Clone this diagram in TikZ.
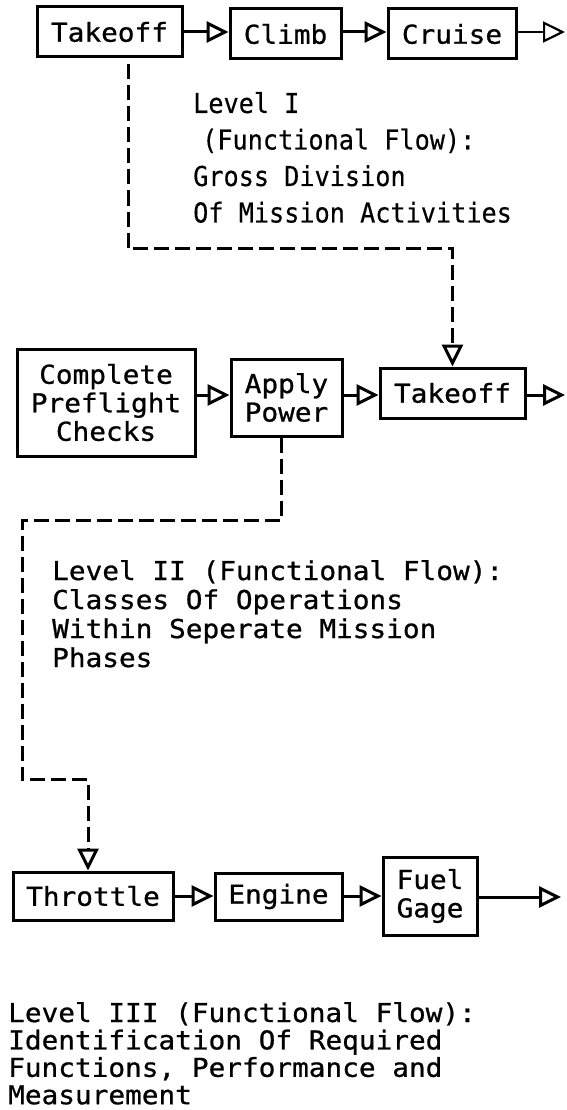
\documentclass[tikz,border=0pt]{standalone}
\usepackage{fontspec}
\usetikzlibrary{arrows.meta}
% plotter-style lettering: a monospaced sans, widened for boxes and notes,
% narrowed for the first-level note
\newfontfamily\plotfont[FakeStretch=1.067, FakeBold=0.8]{DejaVu Sans Mono}
\newfontfamily\plotcond[FakeStretch=0.92, FakeBold=0.3]{DejaVu Sans Mono}

\tikzset{
  stage/.style={draw, line width=3pt, inner sep=0pt, align=center,
    font=\plotfont\fontsize{26}{28.5}\selectfont},
  flow/.style={line width=3pt,
    -{Triangle[open, length=22pt, width=21pt]}},
  linkdash/.style={flow, dash pattern=on 15pt off 6pt},
  caption/.style={anchor=base west, inner sep=0pt}
}

\begin{document}
\begin{tikzpicture}[x=1pt, y=-1pt]
\useasboundingbox (0,0) rectangle (566,1110);
\fill[white] (0,0) rectangle (566,1110);

% ---- Level I: mission phases
\node[stage, minimum width=145pt, minimum height=50pt] (t1) at (109.5,32) {Takeoff};
\node[stage, minimum width=111pt, minimum height=50pt] (c1) at (285.5,34) {Climb};
\node[stage, minimum width=128pt, minimum height=50pt] (r1) at (452,34) {Cruise};
\coordinate (out1) at (565,32);

\draw[flow] (t1.east) -- (t1.east -| c1.west);
\draw[flow] (c1.east |- t1.east) -- (t1.east -| r1.west);
\draw[flow, line width=2.2pt] (r1.east |- out1) -- (out1);

\node[caption] (lvl1) at (193,113) {\parbox[t]{370pt}{\plotcond\fontsize{27.4}{36.5}\selectfont
  Level I\\
  \hspace*{9pt}(Functional Flow):\\
  Gross Division\\
  Of Mission Activities}};

% ---- Level II: operations within the takeoff phase
\node[stage, minimum width=178pt, minimum height=107pt] (pf) at (106,402.5) {Complete\\Preflight\\Checks};
\node[stage, minimum width=111pt, minimum height=77pt] (ap) at (286.5,397.5) {Apply\\Power};
\node[stage, minimum width=145pt, minimum height=50pt] (t2) at (452.5,393) {Takeoff};
\coordinate (out2) at (565,395);

\draw[flow] ([yshift=7.5pt]pf.east) -- ([yshift=7.5pt]pf.east -| ap.west);
\draw[flow] ([yshift=2.5pt]ap.east) -- ([yshift=2.5pt]ap.east -| t2.west);
\draw[flow] (t2.east |- out2) -- (out2);

\draw[linkdash] ([xshift=18.5pt]t1.south) ++(0,6) -- ++(0,184) -| (t2.north);

\node[caption] (lvl2) at (52,580) {\parbox[t]{500pt}{\plotfont\fontsize{26}{29}\selectfont
  Level II (Functional Flow):\\
  Classes Of Operations\\
  Within Seperate Mission\\
  Phases}};

% ---- Level III: functions within applying power
\node[stage, minimum width=160pt, minimum height=48pt] (th) at (93,896) {Throttle};
\node[stage, minimum width=127pt, minimum height=47pt] (en) at (278.5,896.5) {Engine};
\node[stage, minimum width=94pt, minimum height=78pt] (fg) at (430,896) {Fuel\\Gage};
\coordinate (out3) at (561,897);

\draw[flow] (th.east) -- (th.east -| en.west);
\draw[flow] (en.east |- th.east) -- (th.east -| fg.west);
\draw[flow] (fg.east |- out3) -- (out3);

\draw[linkdash] ([xshift=-5.5pt]ap.south) -- ++(0,83) -- ++(-259,0) -- ++(0,259)
  -| ([xshift=-5pt]th.north);

\node[caption] (lvl3) at (8,1022) {\parbox[t]{550pt}{\plotfont\fontsize{26}{27.4}\selectfont
  Level III (Functional Flow):\\
  Identification Of Required\\
  Functions, Performance and\\
  Measurement}};
\end{tikzpicture}
\end{document}
